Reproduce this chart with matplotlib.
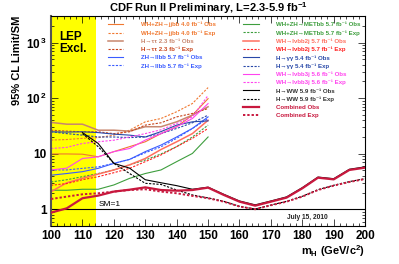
import matplotlib
matplotlib.use("Agg")
import matplotlib.pyplot as plt
from matplotlib.ticker import FixedLocator, NullFormatter, LogLocator, MultipleLocator

plt.rcParams["font.family"] = ["Liberation Sans", "DejaVu Sans"]
plt.rcParams["mathtext.default"] = "regular"

# ---------------- data ----------------
mass_low = [100, 105, 110, 115, 120, 125, 130, 135, 140, 145, 150]
mass_all = [100, 105, 110, 115, 120, 125, 130, 135, 140, 145, 150,
            155, 160, 165, 170, 175, 180, 185, 190, 195, 200]
mass_ww = [110, 115, 120, 125, 130, 135, 140, 145, 150,
           155, 160, 165, 170, 175, 180, 185, 190, 195, 200]

jjbb_obs = [9.9, 9.9, 9.8, 8.8, 10.9, 13.4, 16.4, 23.0, 30.6, 49.5, 98.0]
jjbb_exp = [17.6, 18.0, 18.9, 19.5, 21.6, 26.5, 37.5, 43.0, 57.0, 80.0, 155.0]
tautau_obs = [36.6, 34.0, 34.0, 26.5, 26.5, 25.5, 30.6, 30.6, 37.5, 49.5, 70.0]
tautau_exp = [26.5, 25.5, 24.8, 24.8, 23.0, 24.8, 32.7, 36.0, 46.0, 53.0, 65.0]
llbb_obs = [4.1, 4.4, 4.75, 5.45, 6.7, 7.9, 10.9, 14.3, 20.0, 28.5, 46.0]
llbb_exp = [5.1, 5.1, 5.45, 5.8, 6.7, 7.9, 10.4, 13.3, 18.9, 28.5, 43.0]
metbb_obs = [2.2, 2.2, 2.29, 2.29, 2.74, 3.6, 4.4, 5.1, 7.2, 10.1, 20.0]
metbb_exp = [3.1, 3.4, 3.86, 4.4, 5.1, 6.3, 7.7, 9.9, 13.4, 20.0, 32.7]
lvbb2j_obs = [2.07, 3.0, 3.6, 4.3, 5.1, 6.3, 8.2, 11.9, 16.4, 23.0, 40.0]
lvbb2j_exp = [2.7, 2.9, 3.4, 3.86, 4.55, 5.45, 7.2, 9.5, 13.4, 18.9, 28.5]
gg_obs = [24.8, 24.5, 24.8, 24.0, 22.5, 21.6, 20.0, 25.0, 32.7, 37.5, 39.0]
gg_exp = [24.8, 23.0, 21.6, 20.0, 20.0, 19.5, 20.0, 23.0, 28.5, 36.0, 49.5]
lvbb3j_obs = [5.1, 5.5, 8.2, 8.8, 10.9, 12.4, 17.6, 23.0, 30.6, 43.0, 80.0]
lvbb3j_exp = [12.4, 13.0, 15.3, 16.4, 17.5, 20.0, 23.0, 27.0, 35.0, 46.0, 112.0]
ww_obs = [24.0, 15.3, 6.7, 5.5, 3.4, 3.0, 2.66, 2.29, 2.5,
          1.86, 1.41, 1.2, 1.41, 1.67, 2.45, 3.8, 3.55, 5.25, 5.8]
ww_exp = [23.0, 13.4, 6.7, 4.4, 2.93, 2.8, 2.22, 1.81, 1.6,
          1.39, 1.13, 1.01, 1.19, 1.39, 1.71, 2.25, 2.7, 3.15, 3.55]
comb_obs = [0.87, 1.04, 1.58, 1.76, 2.08, 2.25, 2.48, 2.22, 2.16, 2.22, 2.45,
            1.81, 1.37, 1.16, 1.37, 1.62, 2.38, 3.7, 3.45, 5.1, 5.6]
comb_exp = [1.53, 1.69, 1.86, 1.94, 2.08, 2.22, 2.29, 2.08, 1.94, 1.74, 1.58,
            1.37, 1.12, 1.0, 1.18, 1.37, 1.69, 2.22, 2.66, 3.1, 3.5]

xticks = [100, 110, 120, 130, 140, 150, 160, 170, 180, 190, 200]
lep_limit = 114.4

# ---------------- style ----------------
c_jjbb = "#F07830"
c_tt_obs = "#C8866E"
c_tt_exp = "#C8441C"
c_llbb = "#3A5CFF"
c_met = "#3E9E3E"
c_2j_obs = "#FF6F5F"
c_2j_exp = "#FF2020"
c_gg = "#2848A8"
c_3j = "#FF44EE"
c_ww = "black"
c_comb = "#C8183E"

fig = plt.figure(figsize=(3.99, 2.64), dpi=100)
ax = fig.add_axes([0.128, 0.144, 0.787, 0.795])
ax.set_yscale("log")
ax.set_xlim(100, 200)
ax.set_ylim(0.5, 3000)

ax.axvspan(100, lep_limit, color="#FFFF00", zorder=0, lw=0)
ax.axhline(1, color="black", lw=0.8, zorder=2)

lw = 0.8
dash = (0, (2, 1.3))
h = {}
h["jo"], = ax.plot(mass_low, jjbb_obs, color=c_jjbb, lw=lw)
h["je"], = ax.plot(mass_low, jjbb_exp, color=c_jjbb, lw=lw, ls=dash)
h["to"], = ax.plot(mass_low, tautau_obs, color=c_tt_obs, lw=1.1)
h["te"], = ax.plot(mass_low, tautau_exp, color=c_tt_exp, lw=lw, ls=dash)
h["lo"], = ax.plot(mass_low, llbb_obs, color=c_llbb, lw=lw)
h["le"], = ax.plot(mass_low, llbb_exp, color=c_llbb, lw=lw, ls=dash)
h["mo"], = ax.plot(mass_low, metbb_obs, color=c_met, lw=lw)
h["me"], = ax.plot(mass_low, metbb_exp, color=c_met, lw=lw, ls=dash)
h["2o"], = ax.plot(mass_low, lvbb2j_obs, color=c_2j_obs, lw=1.1)
h["2e"], = ax.plot(mass_low, lvbb2j_exp, color=c_2j_exp, lw=lw, ls=dash)
h["go"], = ax.plot(mass_low, gg_obs, color=c_gg, lw=lw)
h["ge"], = ax.plot(mass_low, gg_exp, color=c_gg, lw=lw, ls=dash)
h["3o"], = ax.plot(mass_low, lvbb3j_obs, color=c_3j, lw=lw)
h["3e"], = ax.plot(mass_low, lvbb3j_exp, color=c_3j, lw=lw, ls=dash)
h["wo"], = ax.plot(mass_ww, ww_obs, color=c_ww, lw=lw, zorder=3)
h["we"], = ax.plot(mass_ww, ww_exp, color=c_ww, lw=lw, ls=dash, zorder=3)
h["co"], = ax.plot(mass_all, comb_obs, color=c_comb, lw=1.6, zorder=4)
h["ce"], = ax.plot(mass_all, comb_exp, color=c_comb, lw=1.4, ls=(0, (1.2, 1.0)), zorder=4)

fb = " fb⁻¹"
left_keys = ["jo", "je", "to", "te", "lo", "le"]
left_labels = ["WH+ZH→jjbb 4.0" + fb + " Obs", "WH+ZH→jjbb 4.0" + fb + " Exp",
               "H→ττ 2.3" + fb + " Obs", "H→ττ 2.3" + fb + " Exp",
               "ZH→llbb 5.7" + fb + " Obs", "ZH→llbb 5.7" + fb + " Exp"]
left_colors = [c_jjbb, c_jjbb, c_tt_obs, c_tt_exp, c_llbb, c_llbb]
right_keys = ["mo", "me", "2o", "2e", "go", "ge", "3o", "3e", "wo", "we", "co", "ce"]
right_labels = ["WH+ZH→METbb 5.7" + fb + " Obs", "WH+ZH→METbb 5.7" + fb + " Exp",
                "WH→lνbb2j 5.7" + fb + " Obs", "WH→lνbb2j 5.7" + fb + " Exp",
                "H→γγ 5.4" + fb + " Obs", "H→γγ 5.4" + fb + " Exp",
                "WH→lνbb3j 5.6" + fb + " Obs", "WH→lνbb3j 5.6" + fb + " Exp",
                "H→WW 5.9" + fb + " Obs", "H→WW 5.9" + fb + " Exp",
                "Combined Obs", "Combined Exp"]
right_colors = [c_met, c_met, c_2j_obs, c_2j_exp, c_gg, c_gg, c_3j, c_3j,
                "#333333", "#333333", c_comb, c_comb]

prop = {"size": 4.4, "weight": "bold", "family": ["Liberation Sans", "DejaVu Sans"]}
legkw = dict(loc="upper left", frameon=False, prop=prop, handlelength=2.6,
             handletextpad=2.9, labelspacing=0.46, handleheight=0.7,
             borderaxespad=0, borderpad=0)
leg1 = ax.legend([h[k] for k in left_keys], left_labels,
                 bbox_to_anchor=(0.18, 0.972), **legkw)
for t, c in zip(leg1.get_texts(), left_colors):
    t.set_color(c)
ax.add_artist(leg1)
leg2 = ax.legend([h[k] for k in right_keys], right_labels,
                 bbox_to_anchor=(0.61, 0.972), **legkw)
for t, c in zip(leg2.get_texts(), right_colors):
    t.set_color(c)

ax.text(0.025, 0.93, "LEP\nExcl.", transform=ax.transAxes, fontsize=8.5,
        fontweight="bold", va="top", ha="left", linespacing=1.0)
ax.text(115.2, 1.07, "SM=1", fontsize=6, va="bottom", ha="left")
ax.text(0.75, 0.04, "July 15, 2010", transform=ax.transAxes, fontsize=4.8,
        fontweight="bold", va="center", ha="left", color="#222222")

ax.set_title(r"CDF Run II Preliminary, L=2.3-5.9 fb$^{-1}$", fontsize=8,
             fontweight="bold", pad=3)

ax.xaxis.set_major_locator(FixedLocator(xticks))
ax.xaxis.set_minor_locator(MultipleLocator(2))
ax.set_xticklabels([str(v) for v in xticks], fontsize=8.5, fontweight="bold")
ax.yaxis.set_major_locator(FixedLocator([1, 10, 100, 1000]))
ax.set_yticklabels(["1", "10", r"10$^{\,2}$", r"10$^{\,3}$"], fontsize=8.5, fontweight="bold")
ax.yaxis.set_minor_locator(LogLocator(base=10, subs=range(2, 10)))
ax.yaxis.set_minor_formatter(NullFormatter())
ax.tick_params(which="both", direction="in", top=True, right=True, width=0.5)
ax.tick_params(which="major", length=5, pad=3)
ax.tick_params(which="minor", length=2.5)
for s in ax.spines.values():
    s.set_linewidth(0.8)
ax.spines["left"].set_linewidth(1.5)
ax.spines["left"].set_color("#555555")

ax.set_ylabel("95% CL Limit/SM", fontsize=8, fontweight="bold", labelpad=3, loc="top")
ax.set_xlabel(r"m$_H$ (GeV/c$^2$)", fontsize=8,
              fontweight="bold", loc="right", labelpad=1)

fig.savefig("out.png", dpi=100)
